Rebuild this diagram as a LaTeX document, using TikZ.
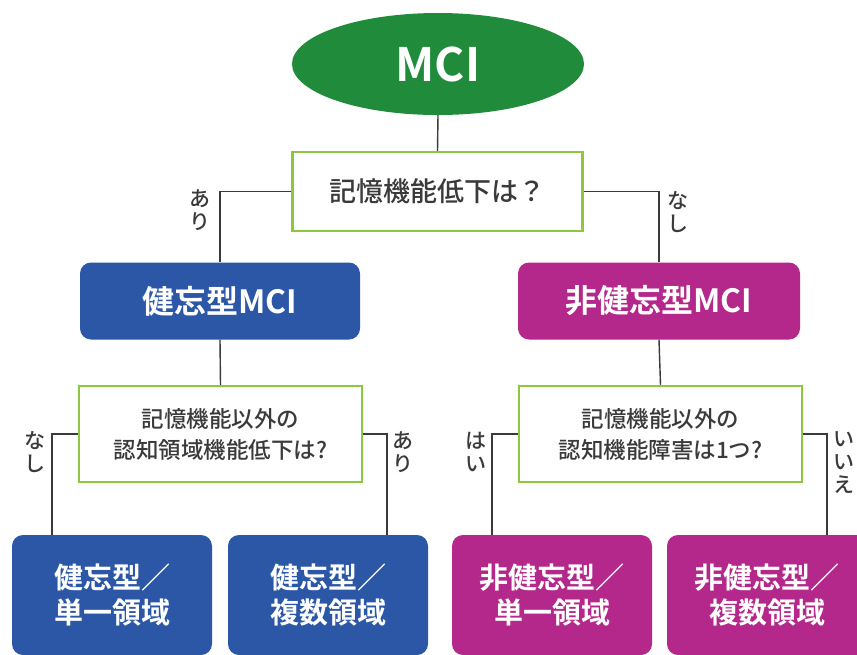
\documentclass[tikz,border=0pt]{standalone}
\usepackage{fontspec}
\usepackage{tikz, xcolor}
\usetikzlibrary{shapes.geometric}
\setmainfont{Noto Sans CJK JP}[BoldFont={Noto Sans CJK JP Bold}]
\newfontfamily\jpmed{Noto Sans CJK JP Medium}
\definecolor{mcigreen}{HTML}{1F8B3B}
\definecolor{qgreen}{HTML}{8DC63F}
\definecolor{amblue}{HTML}{2C56A6}
\definecolor{napink}{HTML}{B3288A}
\definecolor{txtgray}{HTML}{3A3A3A}
\tikzset{
    question/.style={draw=qgreen, line width=2.5pt, fill=white, text=txtgray, align=center},
    typebox/.style={rounded corners=11pt, text=white, font=\bfseries, align=center, inner sep=0pt},
    link/.style={draw=txtgray, line width=1.4pt},
    answer/.style={text=txtgray, font=\jpmed\fontsize{21}{23}\selectfont, align=center}
}

\begin{document}
\begin{tikzpicture}[x=1pt, y=-1pt]
    \clip (0,0) rectangle (857,654);
    \fill [white] (0,0) rectangle (857,654);

    \node (mci) at (438,64) [ellipse, fill=mcigreen, minimum width=292pt, minimum height=102pt, inner sep=0pt,
        text=white, font=\fontsize{46}{50}\selectfont\bfseries] {MCI};

    \node (q1) at (437.5,191.5) [question, minimum width=290pt, minimum height=79pt,
        font=\jpmed\fontsize{27}{30}\selectfont] {記憶機能低下は？};

    \node (am) at (220,301) [typebox, fill=amblue, minimum width=280pt, minimum height=77pt,
        font=\fontsize{32}{36}\selectfont\bfseries] {健忘型MCI};
    \node (nam) at (659,301) [typebox, fill=napink, minimum width=282pt, minimum height=77pt,
        font=\fontsize{32}{36}\selectfont\bfseries] {非健忘型MCI};

    \node (q2) at (220.5,434) [question, minimum width=283pt, minimum height=96pt,
        font=\jpmed\fontsize{22.5}{31}\selectfont] {記憶機能以外の\\認知領域機能低下は?};
    \node (q3) at (660.5,434) [question, minimum width=283pt, minimum height=96pt,
        font=\jpmed\fontsize{22.5}{31}\selectfont] {記憶機能以外の\\認知機能障害は1つ?};

    \node (as) at (112,595) [typebox, fill=amblue, minimum width=200pt, minimum height=120pt,
        font=\fontsize{29}{35}\selectfont\bfseries] {健忘型／\\単一領域};
    \node (am2) at (328,595) [typebox, fill=amblue, minimum width=200pt, minimum height=120pt,
        font=\fontsize{29}{35}\selectfont\bfseries] {健忘型／\\複数領域};
    \node (ns) at (552,595) [typebox, fill=napink, minimum width=200pt, minimum height=120pt,
        font=\fontsize{29}{35}\selectfont\bfseries] {非健忘型／\\単一領域};
    \node (nm) at (767,595) [typebox, fill=napink, minimum width=200pt, minimum height=120pt,
        font=\fontsize{29}{35}\selectfont\bfseries] {非健忘型／\\複数領域};

    \coordinate (t1) at (52,535);
    \coordinate (t2) at (387,535);
    \coordinate (t3) at (492,535);
    \coordinate (t4) at (827,535);

    \draw [link] (mci.south) -- (q1.north);
    \draw [link] (q1.west) -| (am.north);
    \draw [link] (q1.east) -| (nam.north);
    \draw [link] (am.south) -- (q2.north);
    \draw [link] (nam.south) -- (q3.north);
    \draw [link] (q2.west) -| (t1);
    \draw [link] (q2.east) -| (t2);
    \draw [link] (q3.west) -| (t3);
    \draw [link] (q3.east) -| (t4);

    \node (a1) at (200,210) [answer] {あ\\り};
    \node (a2) at (678,212) [answer] {な\\し};
    \node (a3) at (35,452) [answer] {な\\し};
    \node (a4) at (403,452) [answer] {あ\\り};
    \node (a5) at (476,452) [answer] {は\\い};
    \node (a6) at (844,463) [answer] {い\\い\\え};
\end{tikzpicture}
\end{document}
